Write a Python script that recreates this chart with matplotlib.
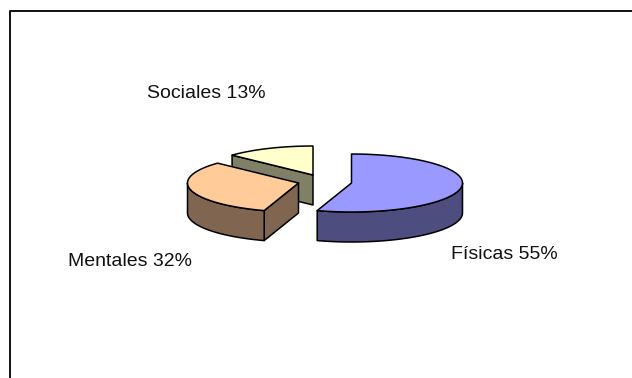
import numpy as np
import matplotlib
matplotlib.use("Agg")
import matplotlib.pyplot as plt
from matplotlib.patches import Polygon

categories = ["Físicas", "Mentales", "Sociales"]
shares = [55, 32, 13]
top_colors = ["#9999FF", "#FFCC99", "#FFFFCC"]
side_colors = ["#4D4D80", "#806650", "#808066"]

# slice apex in canvas pixels, each slice is pulled out of the pie
centers = [(351.5, 183), (298.5, 183), (313, 175)]
label_pos = [(504, 254.5), (129.5, 262), (206, 93)]
RX, RY = 111, 29
DEPTH = 30

plt.rcParams["font.family"] = ["Liberation Sans", "DejaVu Sans"]


def rim(center, start, end):
    # points on the ellipse, angles in degrees clockwise from 12 o'clock
    a = np.radians(np.linspace(start, end, 80))
    return np.column_stack([center[0] + RX * np.sin(a), center[1] - RY * np.cos(a)])


def face(ax, pts, color, zorder):
    ax.add_patch(Polygon(pts, closed=True, facecolor=color, edgecolor="black",
                         linewidth=1.1, joinstyle="round", zorder=zorder))


def extrude(pts):
    lower = pts[::-1] + np.array([0, DEPTH])
    return np.vstack([pts, lower])


fig = plt.figure(figsize=(6.32, 3.78), dpi=100)
ax = fig.add_axes([0, 0, 1, 1])
ax.set_xlim(0, 632)
ax.set_ylim(378, 0)
ax.axis("off")

# outer chart border: left and top edges only
ax.plot([10, 10, 632], [378, 11, 11], color="#111111", lw=1.4, zorder=1)

starts = np.cumsum([0] + shares[:-1]) * 3.6
ends = np.cumsum(shares) * 3.6
order = [2, 1, 0]
for z, i in enumerate(order):
    c = np.array(centers[i], dtype=float)
    s, e = starts[i], ends[i]
    base = 3 + z * 3
    # cut faces first, then the curved wall, then the top
    if i == 2:
        face(ax, extrude(np.vstack([rim(c, s, s), c])), side_colors[i], base)
    if i == 1:
        face(ax, extrude(np.vstack([c, rim(c, s, s)])), side_colors[i], base)
    wall_from, wall_to = max(s, 90), min(e, 270)
    if wall_from < wall_to:
        face(ax, extrude(rim(c, wall_from, wall_to)), side_colors[i], base + 1)
    face(ax, np.vstack([c, rim(c, s, e)]), top_colors[i], base + 2)

for name, share, (x, y) in zip(categories, shares, label_pos):
    ax.text(x, y, f"{name} {share}%", fontsize=14, ha="center", va="center",
            color="#111111", zorder=20)

fig.savefig("out.png", dpi=100)
